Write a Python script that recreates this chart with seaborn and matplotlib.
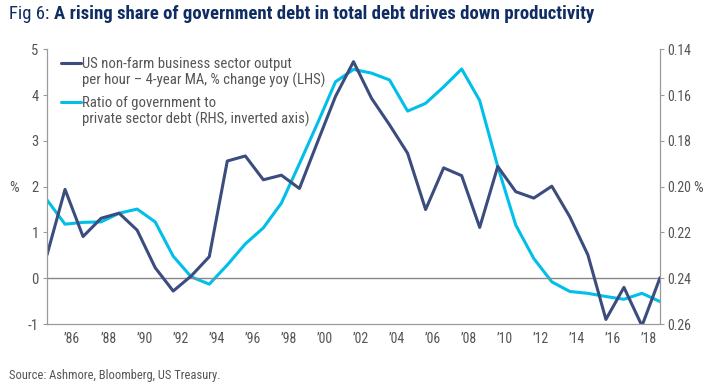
import numpy as np
import pandas as pd
import seaborn as sns
import matplotlib
matplotlib.use("Agg")
import matplotlib.pyplot as plt
from matplotlib.lines import Line2D


# Data
years = list(range(1985, 2020))
productivity = [0.51, 1.94, 0.91, 1.31, 1.42, 1.05, 0.23, -0.28, 0.05, 0.47,
                2.56, 2.67, 2.15, 2.25, 1.96, 2.97, 3.97, 4.73, 3.93, 3.35,
                2.73, 1.50, 2.41, 2.24, 1.11, 2.44, 1.89, 1.75, 2.01, 1.34,
                0.51, -0.90, -0.20, -1.04, 0.01]
debt_ratio = [0.2058, 0.2164, 0.2156, 0.2154, 0.2116, 0.2098, 0.2154, 0.2304, 0.2394, 0.2426,
              0.2342, 0.2250, 0.2180, 0.2072, 0.1900, 0.1724, 0.1542, 0.1488, 0.1504, 0.1534,
              0.1670, 0.1636, 0.1564, 0.1486, 0.1624, 0.1912, 0.2168, 0.2314, 0.2416, 0.2458,
              0.2466, 0.2480, 0.2492, 0.2466, 0.2502]
label_years = list(range(1986, 2019, 2))
tick_labels = ["\u2019" + str(y)[2:] for y in label_years]
left_ticks = [-1, 0, 1, 2, 3, 4, 5]
right_ticks = [0.14, 0.16, 0.18, 0.20, 0.22, 0.24, 0.26]

prod_label = ["US non-farm business sector output", "per hour \u2013 4-year MA, % change yoy (LHS)"]
debt_label = ["Ratio of government to", "private sector debt (RHS, inverted axis)"]

df = pd.DataFrame({"year": years, "productivity": productivity, "debt_ratio": debt_ratio})

sns.set_theme(style="white")
plt.rcParams["font.family"] = ["Roboto Condensed", "DejaVu Sans"]

navy = "#3b4c7e"
cyan = "#00bfe8"
title_col = "#0f2c63"
grey_txt = "#555555"
spine_col = "#9a9a9a"

fig = plt.figure(figsize=(7.11, 3.92), dpi=100)
ax = fig.add_axes([47 / 711, 1 - 324 / 392, (660 - 47) / 711, (324 - 49.3) / 392])
ax2 = ax.twinx()

sns.lineplot(data=df, x="year", y="debt_ratio", ax=ax2, color=cyan, linewidth=2.2)
sns.lineplot(data=df, x="year", y="productivity", ax=ax, color=navy, linewidth=2.2)
ax.axhline(0, color="#888888", linewidth=1.0, zorder=1)

# dark line drawn over the cyan one
ax.set_zorder(ax2.get_zorder() + 1)
ax.patch.set_visible(False)

ax.set_xlim(1985, 2019)
ax.set_ylim(-1, 5)
ax2.set_ylim(0.26, 0.14)
ax.set_yticks(left_ticks)
ax.set_yticklabels([str(t) for t in left_ticks])
ax2.set_yticks(right_ticks)
ax2.set_yticklabels([f"{t:.2f}" for t in right_ticks])

ax.set_xticks(years)
ax.set_xticklabels([""] * len(years))
ax.set_xticks([y + 0.4 for y in label_years], minor=True)
ax.set_xticklabels(tick_labels, minor=True)
ax.tick_params(axis="x", which="major", length=3, width=0.8, color=spine_col, direction="out")
ax.tick_params(axis="x", which="minor", length=0, pad=6, labelsize=10, labelcolor=grey_txt)
ax.tick_params(axis="y", length=3, width=0.8, color=spine_col, direction="out", pad=3,
               labelsize=10.5, labelcolor=grey_txt)
ax2.tick_params(axis="y", length=3, width=0.8, color=spine_col, direction="out", pad=2,
                labelsize=10, labelcolor=grey_txt)

ax.set_xlabel("")
ax.set_ylabel("")
ax2.set_ylabel("")
for a in (ax, ax2):
    a.spines["top"].set_visible(False)
    for s in ("left", "right", "bottom"):
        a.spines[s].set_color(spine_col)
        a.spines[s].set_linewidth(0.9)
ax2.spines["left"].set_visible(False)
ax2.spines["bottom"].set_visible(False)
ax.spines["right"].set_visible(False)

fig.text(14 / 711, 1 - 188 / 392, "%", fontsize=11, color=grey_txt, ha="center", va="center")
fig.text(698 / 711, 1 - 188 / 392, "%", fontsize=11, color=grey_txt, ha="center", va="center")

# legend: handle sits on the first line of each two-line label
blank = Line2D([], [], linestyle="none")
leg_kw = dict(loc="upper left", bbox_transform=fig.transFigure, frameon=False, fontsize=10.6,
              handlelength=1.3, handletextpad=0.1, labelspacing=0.12, borderpad=0,
              labelcolor=grey_txt)
leg1 = ax.legend([Line2D([], [], color=navy, linewidth=2.2), blank], prod_label,
                 bbox_to_anchor=(54 / 711, 1 - 49.5 / 392), **leg_kw)
ax.add_artist(leg1)
ax.legend([Line2D([], [], color=cyan, linewidth=2.2), blank], debt_label,
          bbox_to_anchor=(54 / 711, 1 - 88.5 / 392), **leg_kw)

# title: regular prefix, bold remainder
t1 = fig.text(9 / 711, 1 - 19 / 392, "Fig 6: ", fontsize=13.5, color=title_col, va="baseline")
fig.canvas.draw()
bb = t1.get_window_extent(renderer=fig.canvas.get_renderer())
fig.text(bb.x1 / fig.bbox.width, 1 - 19 / 392,
         "A rising share of government debt in total debt drives down productivity",
         fontsize=13.5, color=title_col, fontweight="bold", va="baseline")

fig.text(9 / 711, 1 - 379 / 392, "Source: Ashmore, Bloomberg, US Treasury.", fontsize=9,
         color=grey_txt, va="baseline")

fig.savefig("out.png", dpi=100)
